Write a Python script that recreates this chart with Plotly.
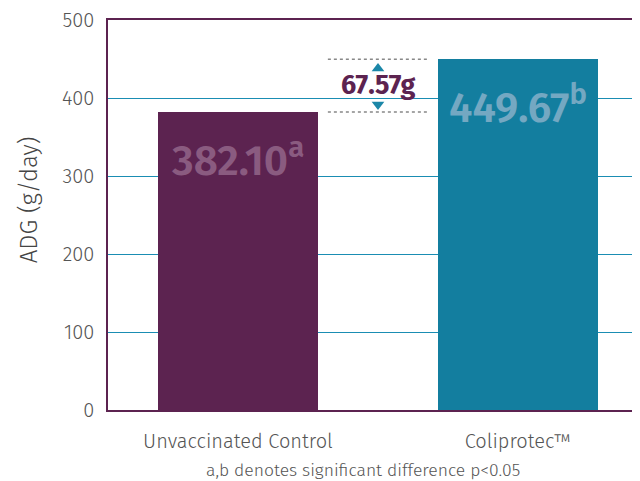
import plotly.graph_objects as go

categories = ["Unvaccinated Control", "Coliprotec™"]
adg_values = [382.10, 449.67]
sig_letters = ["a", "b"]
difference_label = "67.57g"
y_ticks = [0, 100, 200, 300, 400, 500]
y_title = "ADG (g/day)"
footnote = "a,b denotes significant difference p<0.05"

bar_colors = ["#5c2350", "#137e9f"]
value_text_colors = ["#8a5b80", "#74a8c2"]
purple = "#5c2350"
teal = "#1a8db3"
FONT = "Fira Sans, Noto Sans, Lato, sans-serif"
LIGHT = "Fira Sans Light, Fira Sans, Noto Sans, Lato, sans-serif"

xpos = list(range(len(categories)))

fig = go.Figure()
fig.add_trace(go.Bar(
    x=xpos, y=adg_values, width=0.571,
    marker=dict(color=bar_colors, line=dict(width=0)),
    hoverinfo="skip", showlegend=False,
))

# difference indicator
lo, hi = min(adg_values), max(adg_values)
x0d, x1d = 0.321, 0.679
xm = (x0d + x1d) / 2
for v in (lo, hi):
    fig.add_shape(type="line", x0=x0d, x1=x1d, y0=v, y1=v, xref="x", yref="y",
                  line=dict(color="#888888", width=1.6, dash="dot"), layer="above")
fig.add_trace(go.Scatter(
    x=[xm, xm], y=[hi - 12, lo + 9.6], mode="markers",
    marker=dict(symbol=["triangle-up", "triangle-down"], size=11, color="#1b87a8"),
    hoverinfo="skip", showlegend=False,
))
fig.add_annotation(x=xm, y=(lo + hi) / 2, xref="x", yref="y", text=f"<b>{difference_label}</b>",
                   showarrow=False, font=dict(family=FONT, size=27, color=purple), yshift=1)

for i, (v, s) in enumerate(zip(adg_values, sig_letters)):
    fig.add_annotation(x=xpos[i], y=v, xref="x", yref="y", yanchor="top", yshift=-16,
                       text=f"{v:.2f}<sup>{s}</sup>", showarrow=False,
                       font=dict(family=FONT, size=42, color=value_text_colors[i], weight=600))

fig.add_annotation(x=0.446, y=-0.154, xref="x", yref="paper", yanchor="middle", text=footnote,
                   showarrow=False, font=dict(family=LIGHT, size=17.5, color="#555555"))

fig.add_annotation(x=-0.146, y=0.538, xref="paper", yref="paper", xanchor="center", yanchor="middle",
                   text=y_title, textangle=-90, showarrow=False,
                   font=dict(family=LIGHT, size=24, color="#444444"))

fig.update_layout(
    width=640, height=481,
    margin=dict(l=100, r=0, t=12, b=79),
    paper_bgcolor="white", plot_bgcolor="white",
    font=dict(family=LIGHT, color="#555555"),
    bargap=0,
    xaxis=dict(range=[-0.464, 1.464], tickvals=xpos, ticktext=categories,
               tickfont=dict(family=LIGHT, size=20, color="#555555"), showgrid=False, zeroline=False,
               showline=True, linecolor=purple, linewidth=1.5, mirror=True, ticks="",
               ticklabelstandoff=12),
    yaxis=dict(range=[0, 500], tickvals=y_ticks, tickfont=dict(family=LIGHT, size=20, color="#555555"),
               showgrid=True, gridcolor=teal, gridwidth=1.2, zeroline=False,
               showline=True, linecolor=purple, linewidth=1.5, ticks="",
               ticklabelstandoff=8),
)

fig.write_html("out.html")
